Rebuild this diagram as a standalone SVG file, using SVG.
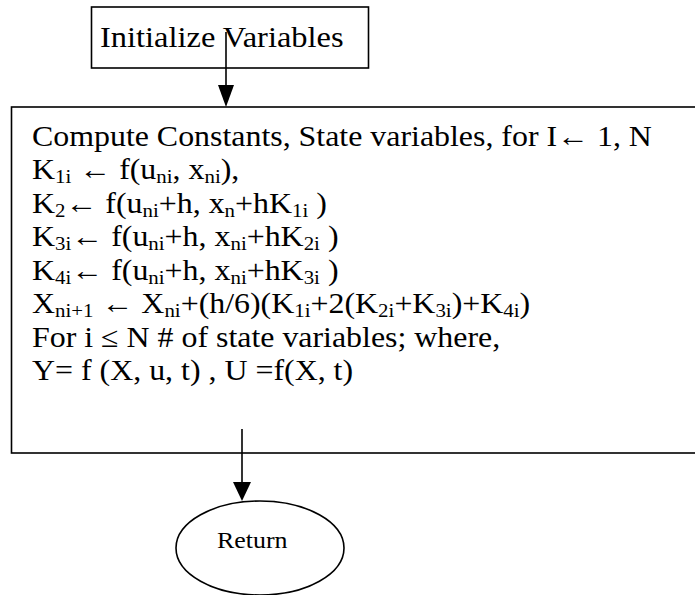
<svg xmlns="http://www.w3.org/2000/svg" width="695" height="595" viewBox="0 0 695 595">
  <style>
    .shape { fill: #fff; stroke: #000; stroke-width: 1.6; }
    .line { fill: none; stroke: #000; stroke-width: 1.6; }
    .head { fill: #000; stroke: none; }
    text { font-family: "Liberation Serif", "Times New Roman", serif; fill: #000; }
    .main { font-size: 29px; }
    .s { font-size: 19px; }
    .label { font-size: 24px; }
  </style>
  <rect width="695" height="595" fill="#fff"/>

  <!-- Start: initialize -->
  <g id="init">
    <rect class="shape" x="91.5" y="7" width="277" height="61"/>
    <text class="main" transform="translate(100 47) scale(1.12 1)">Initialize Variables</text>
  </g>

  <!-- Runge-Kutta step block (right edge runs off the page) -->
  <g id="compute">
    <rect class="shape" x="11.5" y="107" width="700" height="346"/>
    <g class="main" transform="translate(32 146) scale(1.1 1)">
      <text y="0">Compute Constants, State variables, for I←  1, N</text>
      <text y="33.5">K<tspan class="s" dy="4">1i</tspan><tspan dy="-4"> ← f(u</tspan><tspan class="s" dy="4">ni</tspan><tspan dy="-4">, x</tspan><tspan class="s" dy="4">ni</tspan><tspan dy="-4">),</tspan></text>
      <text y="67">K<tspan class="s" dy="4">2</tspan><tspan dy="-4">← f(u</tspan><tspan class="s" dy="4">ni</tspan><tspan dy="-4">+h, x</tspan><tspan class="s" dy="4">n</tspan><tspan dy="-4">+hK</tspan><tspan class="s" dy="4">1i</tspan><tspan dy="-4"> )</tspan></text>
      <text y="100.5">K<tspan class="s" dy="4">3i</tspan><tspan dy="-4">← f(u</tspan><tspan class="s" dy="4">ni</tspan><tspan dy="-4">+h, x</tspan><tspan class="s" dy="4">ni</tspan><tspan dy="-4">+hK</tspan><tspan class="s" dy="4">2i</tspan><tspan dy="-4"> )</tspan></text>
      <text y="134">K<tspan class="s" dy="4">4i</tspan><tspan dy="-4">← f(u</tspan><tspan class="s" dy="4">ni</tspan><tspan dy="-4">+h, x</tspan><tspan class="s" dy="4">ni</tspan><tspan dy="-4">+hK</tspan><tspan class="s" dy="4">3i</tspan><tspan dy="-4"> )</tspan></text>
      <text y="167.5">X<tspan class="s" dy="4">ni+1</tspan><tspan dy="-4"> ← X</tspan><tspan class="s" dy="4">ni</tspan><tspan dy="-4">+(h/6)(K</tspan><tspan class="s" dy="4">1i</tspan><tspan dy="-4">+2(K</tspan><tspan class="s" dy="4">2i</tspan><tspan dy="-4">+K</tspan><tspan class="s" dy="4">3i</tspan><tspan dy="-4">)+K</tspan><tspan class="s" dy="4">4i</tspan><tspan dy="-4">)</tspan></text>
      <text y="201">For i ≤ N # of state variables; where,</text>
      <text y="234.5">Y= f (X, u, t) , U =f(X, t)</text>
    </g>
  </g>

  <!-- End: return -->
  <g id="return">
    <ellipse class="shape" cx="260" cy="548" rx="84" ry="47"/>
    <text class="label" transform="translate(217 548) scale(1.08 1)">Return</text>
  </g>

  <g id="connectors">
    <line class="line" x1="226" y1="32" x2="226" y2="88"/>
    <polygon class="head" points="218,85 234,85 226,107"/>
    <line class="line" x1="242" y1="429" x2="242" y2="484"/>
    <polygon class="head" points="233,482 251,482 242,501"/>
  </g>
</svg>
